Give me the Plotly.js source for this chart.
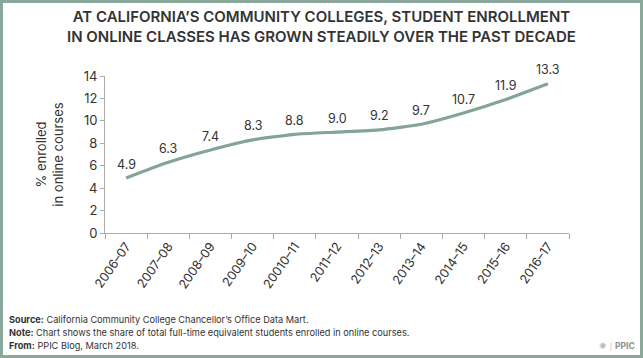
<!DOCTYPE html>
<html>
<head>
<meta charset="utf-8">
<script src="https://cdn.plot.ly/plotly-3.0.1.min.js"></script>
<style>
  html, body { margin: 0; padding: 0; background: #fff; }
  #frame { width: 637px; height: 352px; border: 3px solid #8aa99c; background: #fff; }
  #chart { width: 637px; height: 352px; }
</style>
</head>
<body>
<div id="frame"><div id="chart"></div></div>
<script>
const years = ["2006–07", "2007–08", "2008–09", "2009–10", "20010–11", "2011–12", "2012–13", "2013–14", "2014–15", "2015–16", "2016–17"];
const pctOnline = [4.9, 6.3, 7.4, 8.3, 8.8, 9.0, 9.2, 9.7, 10.7, 11.9, 13.3];
const valueLabels = ["4.9", "6.3", "7.4", "8.3", "8.8", "9.0", "9.2", "9.7", "10.7", "11.9", "13.3"];
const yTicks = [0, 2, 4, 6, 8, 10, 12, 14];
const titleLines = ["AT CALIFORNIA’S COMMUNITY COLLEGES, STUDENT ENROLLMENT", "IN ONLINE CLASSES HAS GROWN STEADILY OVER THE PAST DECADE"];

const FONT = "Inter, 'Open Sans', sans-serif";
const DARK = "#333333";

// plot area in div coords: left 102, top 73, width 464, height 157
const px = X => (X - 3 - 102) / 464;
const py = Y => (233 - Y) / 157;

const trace = {
  type: "scatter",
  mode: "lines",
  x: years,
  y: pctOnline,
  line: { color: "#84a595", width: 3.2, shape: "spline", smoothing: 0.5 },
  hoverinfo: "skip",
  cliponaxis: false
};

const labelAnnotations = years.map((yr, i) => ({
  x: yr, y: pctOnline[i], xref: "x", yref: "y",
  text: valueLabels[i], showarrow: false,
  yanchor: "middle", yshift: 14,
  font: { family: FONT, size: 12.5, color: DARK }
}));

const titleAnnotation = {
  text: titleLines.join("<br>"), xref: "paper", yref: "paper", x: px(321), y: py(26),
  xanchor: "center", yanchor: "middle", align: "center", showarrow: false,
  font: { family: FONT, size: 15, color: DARK, weight: 600 }
};

const footer = [
  { t: "<b>Source:</b> California Community College Chancellor’s Office Data Mart.", y: 319 },
  { t: "<b>Note:</b> Chart shows the share of total full-time equivalent students enrolled in online courses.", y: 332 },
  { t: "<b>From:</b> PPIC Blog, March 2018.", y: 345 }
];

const annotations = labelAnnotations.concat([titleAnnotation], footer.map(f => ({
  text: f.t, xref: "paper", yref: "paper", x: px(7), y: py(f.y),
  xanchor: "left", yanchor: "middle", showarrow: false,
  font: { family: FONT, size: 9.2, color: DARK }
})));
annotations.push({
  text: "<b>PPIC</b>", xref: "paper", yref: "paper", x: px(637), y: py(346),
  xanchor: "right", yanchor: "middle", showarrow: false,
  font: { family: FONT, size: 8.5, color: "#8c8c8c" }
});
annotations.push({
  text: "✺ <span style='color:#cccccc'>|</span>", xref: "paper", yref: "paper", x: px(614), y: py(346),
  xanchor: "right", yanchor: "middle", showarrow: false,
  font: { family: "DejaVu Sans", size: 9, color: "#bbbbbb" }
});

const layout = {
  width: 637,
  height: 352,
  margin: { l: 102, r: 71, t: 73, b: 122 },
  paper_bgcolor: "#ffffff",
  plot_bgcolor: "#ffffff",
  showlegend: false,
  xaxis: {
    type: "category",
    range: [-0.5, 10.5],
    showgrid: false,
    zeroline: false,
    showline: true,
    linecolor: "#aaaaaa",
    linewidth: 1,
    ticks: "outside",
    tickson: "boundaries",
    ticklen: 5,
    tickcolor: "#aaaaaa",
    tickangle: -55,
    tickfont: { family: FONT, size: 12.5, color: DARK },
    fixedrange: true
  },
  yaxis: {
    range: [0, 14],
    tickvals: yTicks,
    showgrid: false,
    zeroline: false,
    showline: true,
    linecolor: "#aaaaaa",
    linewidth: 1,
    ticks: "outside",
    ticklen: 4,
    tickcolor: "#aaaaaa",
    tickfont: { family: FONT, size: 13, color: DARK },
    title: {
      text: "% enrolled<br>in online courses",
      font: { family: FONT, size: 13, color: DARK },
      standoff: 17
    },
    fixedrange: true
  },
  annotations: annotations
};

Plotly.newPlot("chart", [trace], layout, { displayModeBar: false, staticPlot: true });
</script>
</body>
</html>
